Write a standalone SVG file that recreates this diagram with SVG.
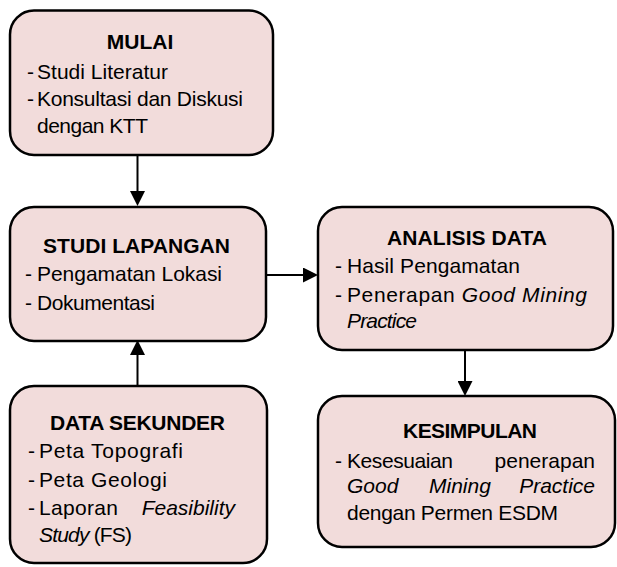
<svg xmlns="http://www.w3.org/2000/svg" width="617" height="567" viewBox="0 0 617 567">
<style>
.box{fill:#f2dcdb;stroke:#000;stroke-width:2.5}
text{font-family:"Liberation Sans",Arial,sans-serif;font-size:21px;fill:#000}
.t{font-weight:bold;text-anchor:middle}
.i{font-style:italic}
.e{text-anchor:end}
.c{stroke:#000;stroke-width:2;fill:none;marker-end:url(#ah)}
</style>
<defs>
<marker id="ah" markerUnits="userSpaceOnUse" viewBox="0 0 15 15" refX="7" refY="7.5" markerWidth="15" markerHeight="15" orient="auto">
<path d="M0,0 L15,7.5 L0,15 Z" fill="#000"/>
</marker>
</defs>
<rect width="617" height="567" fill="#fff"/>
<g id="connectors">
<line class="c" x1="137.5" y1="155" x2="137.5" y2="198"/>
<line class="c" x1="266" y1="275" x2="310" y2="275"/>
<line class="c" x1="137.5" y1="386" x2="137.5" y2="348"/>
<line class="c" x1="465" y1="350" x2="465" y2="388"/>
</g>
<g id="mulai">
<rect class="box" x="10" y="10.5" width="263" height="144.5" rx="24"/>
<text class="t" x="140" y="49">MULAI</text>
<text x="27" y="79">-</text><text x="37" y="79" textLength="131">Studi Literatur</text>
<text x="27" y="106">-</text><text x="37" y="106" textLength="206">Konsultasi dan Diskusi</text>
<text x="37" y="133" textLength="111">dengan KTT</text>
</g>
<g id="studi-lapangan">
<rect class="box" x="10" y="207" width="256" height="134" rx="24"/>
<text class="t" x="136.5" y="253" textLength="187">STUDI LAPANGAN</text>
<text x="25" y="281">-</text><text x="37" y="281" textLength="185">Pengamatan Lokasi</text>
<text x="25" y="310">-</text><text x="37" y="310" textLength="118">Dokumentasi</text>
</g>
<g id="analisis-data">
<rect class="box" x="318" y="207" width="295" height="143" rx="24"/>
<text class="t" x="467" y="245" textLength="160">ANALISIS DATA</text>
<text x="335" y="273">-</text><text x="347" y="273" textLength="173">Hasil Pengamatan</text>
<text x="335" y="302">-</text><text x="347" y="302" textLength="240">Penerapan <tspan class="i">Good Mining</tspan></text>
<text class="i" x="347" y="328" textLength="70">Practice</text>
</g>
<g id="data-sekunder">
<rect class="box" x="10" y="386" width="257" height="177" rx="24"/>
<text class="t" x="137.5" y="430" textLength="175">DATA SEKUNDER</text>
<text x="28" y="458">-</text><text x="39" y="458" textLength="144">Peta Topografi</text>
<text x="28" y="487">-</text><text x="39" y="487" textLength="128">Peta Geologi</text>
<text x="28" y="515">-</text><text x="39" y="515" textLength="79">Laporan</text>
<text class="i e" x="235" y="515">Feasibility</text>
<text x="39" y="542" textLength="93"><tspan class="i">Study</tspan> (FS)</text>
</g>
<g id="kesimpulan">
<rect class="box" x="318" y="396" width="297" height="151" rx="24"/>
<text class="t" x="470" y="438" textLength="134">KESIMPULAN</text>
<text x="335" y="468">-</text><text x="347" y="468" textLength="106">Kesesuaian</text>
<text class="e" x="595" y="468">penerapan</text>
<text class="i" x="347" y="493">Good</text>
<text class="i" x="429" y="493">Mining</text>
<text class="i e" x="595" y="493">Practice</text>
<text x="347" y="520" textLength="211">dengan Permen ESDM</text>
</g>
</svg>
